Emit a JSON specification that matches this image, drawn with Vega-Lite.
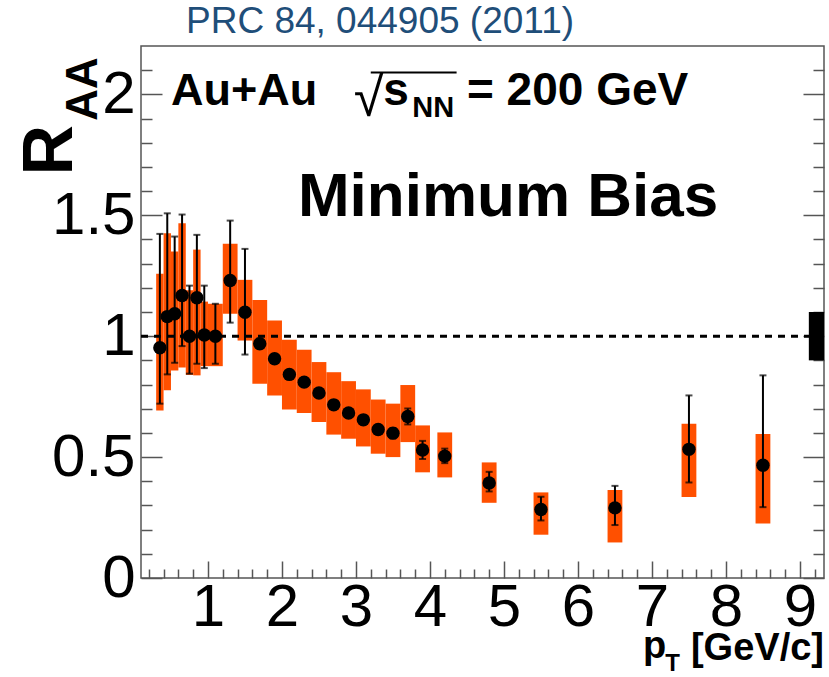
{
  "$schema": "https://vega.github.io/schema/vega-lite/v6.json",
  "width": 683,
  "height": 532,
  "autosize": {"type": "none"},
  "padding": {"left": 141, "top": 46, "right": 5, "bottom": 99},
  "background": "white",
  "title": {"text": "PRC 84, 044905 (2011)", "anchor": "start", "frame": "group", "dx": 45, "dy": 38, "offset": 8, "baseline": "alphabetic", "fontSize": 37, "font": "Liberation Sans", "fontWeight": "normal", "color": "#1f4e79"},
  "datasets": {
    "raa": [
      {"pt": 0.35, "raa": 0.952, "statLo": 0.721, "statHi": 1.423, "sysLo": 0.693, "sysHi": 1.258, "ptLo": 0.3, "ptHi": 0.4},
      {"pt": 0.45, "raa": 1.081, "statLo": 0.842, "statHi": 1.508, "sysLo": 0.776, "sysHi": 1.426, "ptLo": 0.4, "ptHi": 0.5},
      {"pt": 0.55, "raa": 1.093, "statLo": 0.890, "statHi": 1.412, "sysLo": 0.858, "sysHi": 1.350, "ptLo": 0.5, "ptHi": 0.6},
      {"pt": 0.65, "raa": 1.168, "statLo": 0.959, "statHi": 1.503, "sysLo": 0.870, "sysHi": 1.467, "ptLo": 0.6, "ptHi": 0.7},
      {"pt": 0.75, "raa": 1.000, "statLo": 0.845, "statHi": 1.209, "sysLo": 0.840, "sysHi": 1.190, "ptLo": 0.7, "ptHi": 0.8},
      {"pt": 0.85, "raa": 1.159, "statLo": 0.886, "statHi": 1.419, "sysLo": 0.838, "sysHi": 1.358, "ptLo": 0.8, "ptHi": 0.9},
      {"pt": 0.95, "raa": 1.005, "statLo": 0.868, "statHi": 1.209, "sysLo": 0.876, "sysHi": 1.143, "ptLo": 0.9, "ptHi": 1.0},
      {"pt": 1.1, "raa": 1.000, "statLo": 0.886, "statHi": 1.134, "sysLo": 0.876, "sysHi": 1.134, "ptLo": 1.0, "ptHi": 1.2},
      {"pt": 1.3, "raa": 1.230, "statLo": 1.056, "statHi": 1.478, "sysLo": 1.093, "sysHi": 1.382, "ptLo": 1.2, "ptHi": 1.4},
      {"pt": 1.5, "raa": 1.099, "statLo": 0.924, "statHi": 1.361, "sysLo": 0.982, "sysHi": 1.233, "ptLo": 1.4, "ptHi": 1.6},
      {"pt": 1.7, "raa": 0.969, "statLo": 0.950, "statHi": 0.990, "sysLo": 0.803, "sysHi": 1.150, "ptLo": 1.6, "ptHi": 1.8},
      {"pt": 1.9, "raa": 0.907, "statLo": 0.890, "statHi": 0.925, "sysLo": 0.755, "sysHi": 1.065, "ptLo": 1.8, "ptHi": 2.0},
      {"pt": 2.1, "raa": 0.842, "statLo": 0.825, "statHi": 0.860, "sysLo": 0.697, "sysHi": 0.985, "ptLo": 2.0, "ptHi": 2.2},
      {"pt": 2.3, "raa": 0.810, "statLo": 0.793, "statHi": 0.827, "sysLo": 0.682, "sysHi": 0.944, "ptLo": 2.2, "ptHi": 2.4},
      {"pt": 2.5, "raa": 0.765, "statLo": 0.748, "statHi": 0.782, "sysLo": 0.645, "sysHi": 0.893, "ptLo": 2.4, "ptHi": 2.6},
      {"pt": 2.7, "raa": 0.716, "statLo": 0.699, "statHi": 0.733, "sysLo": 0.593, "sysHi": 0.851, "ptLo": 2.6, "ptHi": 2.8},
      {"pt": 2.9, "raa": 0.682, "statLo": 0.665, "statHi": 0.699, "sysLo": 0.576, "sysHi": 0.814, "ptLo": 2.8, "ptHi": 3.0},
      {"pt": 3.1, "raa": 0.654, "statLo": 0.636, "statHi": 0.672, "sysLo": 0.544, "sysHi": 0.780, "ptLo": 3.0, "ptHi": 3.2},
      {"pt": 3.3, "raa": 0.614, "statLo": 0.596, "statHi": 0.632, "sysLo": 0.514, "sysHi": 0.738, "ptLo": 3.2, "ptHi": 3.4},
      {"pt": 3.5, "raa": 0.599, "statLo": 0.578, "statHi": 0.620, "sysLo": 0.500, "sysHi": 0.721, "ptLo": 3.4, "ptHi": 3.6},
      {"pt": 3.7, "raa": 0.668, "statLo": 0.635, "statHi": 0.701, "sysLo": 0.562, "sysHi": 0.798, "ptLo": 3.6, "ptHi": 3.8},
      {"pt": 3.9, "raa": 0.529, "statLo": 0.492, "statHi": 0.567, "sysLo": 0.437, "sysHi": 0.631, "ptLo": 3.8, "ptHi": 4.0},
      {"pt": 4.2, "raa": 0.504, "statLo": 0.475, "statHi": 0.535, "sysLo": 0.416, "sysHi": 0.602, "ptLo": 4.1, "ptHi": 4.3},
      {"pt": 4.8, "raa": 0.393, "statLo": 0.358, "statHi": 0.439, "sysLo": 0.311, "sysHi": 0.478, "ptLo": 4.7, "ptHi": 4.9},
      {"pt": 5.5, "raa": 0.283, "statLo": 0.238, "statHi": 0.336, "sysLo": 0.179, "sysHi": 0.354, "ptLo": 5.4, "ptHi": 5.6},
      {"pt": 6.5, "raa": 0.290, "statLo": 0.219, "statHi": 0.381, "sysLo": 0.147, "sysHi": 0.364, "ptLo": 6.4, "ptHi": 6.6},
      {"pt": 7.5, "raa": 0.532, "statLo": 0.395, "statHi": 0.755, "sysLo": 0.335, "sysHi": 0.638, "ptLo": 7.4, "ptHi": 7.6},
      {"pt": 8.5, "raa": 0.466, "statLo": 0.293, "statHi": 0.838, "sysLo": 0.225, "sysHi": 0.596, "ptLo": 8.4, "ptHi": 8.6}
    ]
  },
  "config": {
    "view": {"stroke": "#555", "strokeWidth": 1.5},
    "axis": {"domain": false, "grid": false, "tickColor": "#555", "tickWidth": 1.5, "labelFont": "Liberation Sans", "labelFontSize": 60, "labelColor": "black", "labelOverlap": false, "labelFlush": false, "labelBound": false, "title": null}
  },
  "resolve": {"axis": {"x": "independent", "y": "independent"}},
  "layer": [
    {
      "data": {"name": "raa"},
      "mark": {"type": "rect", "color": "#ff5000"},
      "encoding": {
        "x": {"field": "ptLo", "type": "quantitative", "scale": {"domain": [0.095, 9.325], "nice": false, "zero": false}, "axis": null},
        "x2": {"field": "ptHi"},
        "y": {"field": "sysLo", "type": "quantitative", "scale": {"domain": [0, 2.2], "nice": false, "zero": false}, "axis": null},
        "y2": {"field": "sysHi"}
      }
    },
    {
      "data": {"values": [{}]},
      "mark": {"type": "rule", "color": "black", "strokeWidth": 3, "strokeDash": [7, 6]},
      "encoding": {
        "y": {"datum": 1, "type": "quantitative", "axis": {"orient": "right", "values": [0, 0.1, 0.2, 0.3, 0.4, 0.5, 0.6, 0.7, 0.8, 0.9, 1, 1.1, 1.2, 1.3, 1.4, 1.5, 1.6, 1.7, 1.8, 1.9, 2, 2.1], "labels": false, "tickSize": {"condition": {"test": "abs(datum.value*2 - round(datum.value*2)) < 0.001", "value": -21}, "value": -11}}}
      }
    },
    {
      "data": {"values": [{}]},
      "mark": {"type": "rect", "color": "black"},
      "encoding": {
        "x": {"datum": 9.12, "type": "quantitative", "axis": null},
        "x2": {"datum": 9.325},
        "y": {"datum": 0.9, "type": "quantitative", "axis": null},
        "y2": {"datum": 1.1}
      }
    },
    {
      "data": {"name": "raa"},
      "mark": {"type": "errorbar", "color": "black", "thickness": 2, "ticks": {"size": 7}},
      "encoding": {
        "x": {"field": "pt", "type": "quantitative", "axis": null},
        "y": {"field": "statLo", "type": "quantitative", "axis": null},
        "y2": {"field": "statHi"}
      }
    },
    {
      "data": {"name": "raa"},
      "mark": {"type": "circle", "size": 180, "color": "black", "opacity": 1},
      "encoding": {
        "x": {"field": "pt", "type": "quantitative", "axis": {"orient": "bottom", "values": [0.2, 0.4, 0.6, 0.8, 1, 1.2, 1.4, 1.6, 1.8, 2, 2.2, 2.4, 2.6, 2.8, 3, 3.2, 3.4, 3.6, 3.8, 4, 4.2, 4.4, 4.6, 4.8, 5, 5.2, 5.4, 5.6, 5.8, 6, 6.2, 6.4, 6.6, 6.8, 7, 7.2, 7.4, 7.6, 7.8, 8, 8.2, 8.4, 8.6, 8.8, 9, 9.2], "labelExpr": "abs(datum.value - round(datum.value)) < 0.001 ? format(datum.value, 'd') : ''", "labelPadding": 17, "tickSize": {"condition": {"test": "abs(datum.value - round(datum.value)) < 0.001", "value": -17}, "value": -9}}},
        "y": {"field": "raa", "type": "quantitative", "axis": {"orient": "left", "values": [0, 0.1, 0.2, 0.3, 0.4, 0.5, 0.6, 0.7, 0.8, 0.9, 1, 1.1, 1.2, 1.3, 1.4, 1.5, 1.6, 1.7, 1.8, 1.9, 2, 2.1], "labelExpr": "abs(datum.value*2 - round(datum.value*2)) < 0.001 ? format(datum.value, '~g') : ''", "labelPadding": 27, "tickSize": {"condition": {"test": "abs(datum.value*2 - round(datum.value*2)) < 0.001", "value": -21}, "value": -11}}}
      }
    },
    {
      "data": {"values": [{}]},
      "mark": {"type": "text", "text": "Au+Au", "font": "Liberation Sans", "fontWeight": "bold", "fontSize": 45, "align": "left", "baseline": "alphabetic"},
      "encoding": {"x": {"datum": 0.5, "type": "quantitative", "axis": null}, "y": {"datum": 1.958, "type": "quantitative", "axis": null}}
    },
    {
      "data": {"values": [{}]},
      "mark": {"type": "text", "text": "√", "font": "Liberation Sans", "fontWeight": "normal", "fontSize": 54, "align": "left", "baseline": "alphabetic"},
      "encoding": {"x": {"datum": 2.97, "type": "quantitative", "axis": null}, "y": {"datum": 1.91, "type": "quantitative", "axis": null}}
    },
    {
      "data": {"values": [{}]},
      "mark": {"type": "rule", "color": "black", "strokeWidth": 2},
      "encoding": {"x": {"datum": 3.2, "type": "quantitative", "axis": null}, "x2": {"datum": 4.36}, "y": {"datum": 2.09, "type": "quantitative", "axis": null}}
    },
    {
      "data": {"values": [{}]},
      "mark": {"type": "text", "text": "s", "font": "Liberation Sans", "fontWeight": "bold", "fontSize": 46, "align": "left", "baseline": "alphabetic"},
      "encoding": {"x": {"datum": 3.37, "type": "quantitative", "axis": null}, "y": {"datum": 1.958, "type": "quantitative", "axis": null}}
    },
    {
      "data": {"values": [{}]},
      "mark": {"type": "text", "text": "NN", "font": "Liberation Sans", "fontWeight": "bold", "fontSize": 29, "align": "left", "baseline": "alphabetic"},
      "encoding": {"x": {"datum": 3.76, "type": "quantitative", "axis": null}, "y": {"datum": 1.905, "type": "quantitative", "axis": null}}
    },
    {
      "data": {"values": [{}]},
      "mark": {"type": "text", "text": "= 200 GeV", "font": "Liberation Sans", "fontWeight": "bold", "fontSize": 46, "align": "left", "baseline": "alphabetic"},
      "encoding": {"x": {"datum": 4.5, "type": "quantitative", "axis": null}, "y": {"datum": 1.958, "type": "quantitative", "axis": null}}
    },
    {
      "data": {"values": [{}]},
      "mark": {"type": "text", "text": "Minimum Bias", "font": "Liberation Sans", "fontWeight": "bold", "fontSize": 62, "align": "left", "baseline": "alphabetic"},
      "encoding": {"x": {"datum": 2.216, "type": "quantitative", "axis": null}, "y": {"datum": 1.499, "type": "quantitative", "axis": null}}
    },
    {
      "data": {"values": [{}]},
      "mark": {"type": "text", "text": "R", "font": "Liberation Sans", "fontWeight": "bold", "fontSize": 70, "angle": 270, "align": "left", "baseline": "alphabetic"},
      "encoding": {"x": {"datum": -0.838, "type": "quantitative", "axis": null}, "y": {"datum": 1.664, "type": "quantitative", "axis": null}}
    },
    {
      "data": {"values": [{}]},
      "mark": {"type": "text", "text": "AA", "font": "Liberation Sans", "fontWeight": "bold", "fontSize": 44, "angle": 270, "align": "left", "baseline": "alphabetic"},
      "encoding": {"x": {"datum": -0.5, "type": "quantitative", "axis": null}, "y": {"datum": 1.891, "type": "quantitative", "axis": null}}
    },
    {
      "data": {"values": [{}]},
      "mark": {"type": "text", "text": "p", "font": "Liberation Sans", "fontWeight": "bold", "fontSize": 38, "align": "left", "baseline": "alphabetic"},
      "encoding": {"x": {"datum": 6.88, "type": "quantitative", "axis": null}, "y": {"datum": -0.332, "type": "quantitative", "axis": null}}
    },
    {
      "data": {"values": [{}]},
      "mark": {"type": "text", "text": "T", "font": "Liberation Sans", "fontWeight": "bold", "fontSize": 24, "align": "left", "baseline": "alphabetic"},
      "encoding": {"x": {"datum": 7.18, "type": "quantitative", "axis": null}, "y": {"datum": -0.384, "type": "quantitative", "axis": null}}
    },
    {
      "data": {"values": [{}]},
      "mark": {"type": "text", "text": "[GeV/c]", "font": "Liberation Sans", "fontWeight": "bold", "fontSize": 38, "align": "right", "baseline": "alphabetic"},
      "encoding": {"x": {"datum": 9.325, "type": "quantitative", "axis": null}, "y": {"datum": -0.34, "type": "quantitative", "axis": null}}
    }
  ]
}
